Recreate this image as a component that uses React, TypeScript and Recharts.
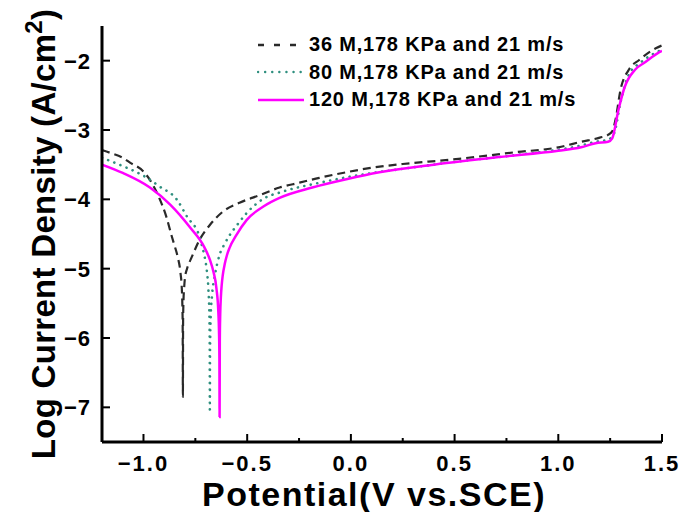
import React from 'react';
import { LineChart, Line, XAxis, YAxis, Legend } from 'recharts';

const SERIES_NAMES = [
  '36 M,178 KPa and 21 m/s',
  '80 M,178 KPa and 21 m/s',
  '120 M,178 KPa and 21 m/s',
];

const V_36 = [-1.2, -1.16, -1.1, -1.065, -1.0, -0.969, -0.93, -0.89, -0.863, -0.85, -0.835, -0.822, -0.815, -0.812, -0.811, -0.81, -0.809, -0.807, -0.804, -0.801, -0.79, -0.78, -0.767, -0.729, -0.68, -0.618, -0.537, -0.44, -0.344, -0.248, -0.152, -0.04, 0.088, 0.25, 0.473, 0.795, 1.0, 1.11, 1.2, 1.24, 1.26, 1.276, 1.3, 1.34, 1.39, 1.47, 1.5];
const L_36 = [-3.29, -3.33, -3.4, -3.47, -3.6, -3.72, -3.94, -4.25, -4.54, -4.67, -4.83, -5.05, -5.3, -5.6, -5.8, -6.85, -5.75, -5.45, -5.28, -5.16, -5.0, -4.92, -4.83, -4.58, -4.37, -4.18, -4.05, -3.94, -3.83, -3.76, -3.69, -3.62, -3.55, -3.49, -3.43, -3.32, -3.25, -3.17, -3.11, -3.07, -3.02, -2.85, -2.42, -2.13, -1.99, -1.82, -1.78];

const V_80 = [-1.2, -1.1, -1.0, -0.92, -0.84, -0.79, -0.73, -0.719, -0.705, -0.695, -0.687, -0.683, -0.681, -0.68, -0.679, -0.676, -0.67, -0.657, -0.633, -0.61, -0.585, -0.546, -0.503, -0.426, -0.33, -0.15, 0.0, 0.25, 0.5, 0.8, 1.1, 1.18, 1.24, 1.27, 1.3, 1.34, 1.4, 1.5];
const L_80 = [-3.4, -3.52, -3.66, -3.82, -4.0, -4.25, -4.54, -4.66, -4.83, -5.02, -5.3, -5.6, -6.0, -7.03, -6.2, -5.7, -5.4, -5.12, -4.8, -4.65, -4.52, -4.36, -4.2, -4.0, -3.89, -3.76, -3.67, -3.56, -3.46, -3.36, -3.23, -3.17, -3.14, -3.04, -2.6, -2.2, -2.02, -1.84];

const V_120 = [-1.2, -1.1, -0.969, -0.87, -0.777, -0.705, -0.68, -0.663, -0.648, -0.639, -0.636, -0.634, -0.633, -0.632, -0.63, -0.627, -0.623, -0.618, -0.608, -0.598, -0.585, -0.553, -0.503, -0.42, -0.344, -0.186, -0.022, 0.137, 0.4, 0.713, 1.0, 1.11, 1.18, 1.24, 1.26, 1.29, 1.32, 1.37, 1.42, 1.48, 1.5];
const L_120 = [-3.5, -3.62, -3.83, -4.08, -4.4, -4.7, -4.87, -5.04, -5.29, -5.63, -5.89, -6.29, -7.14, -6.05, -5.66, -5.42, -5.24, -5.1, -4.93, -4.81, -4.7, -4.52, -4.3, -4.1, -3.98, -3.83, -3.71, -3.61, -3.5, -3.39, -3.3, -3.25, -3.19, -3.17, -3.12, -2.71, -2.38, -2.13, -2.02, -1.89, -1.86];

const X_TICKS = [-1, -0.75, -0.5, -0.25, 0, 0.25, 0.5, 0.75, 1, 1.25, 1.5];
const X_MAJOR = [-1, -0.5, 0, 0.5, 1, 1.5];
const Y_TICKS = [-7, -6, -5, -4, -3, -2];

const FONT = "Arial, 'Liberation Sans', Helvetica, sans-serif";

const toPoints = (v: number[], l: number[]) => v.map((x, i) => ({ v: x, y: l[i] }));
const DATA = [toPoints(V_36, L_36), toPoints(V_80, L_80), toPoints(V_120, L_120)];

const STYLES = [
  { stroke: '#2a2a2a', width: 2.2, dash: '8 5', legendDash: '6 10', cap: 'butt' },
  { stroke: '#2f8f7f', width: 2.6, dash: '0.1 6.5', legendDash: '0.1 7', cap: 'round' },
  { stroke: '#ff00ff', width: 2.5, dash: undefined, legendDash: undefined, cap: 'butt' },
];

const fmt = (n: number, d: number) => n.toFixed(d).replace('-', '\u2212');

const XTick = (props: any) => {
  const { x, y, payload } = props;
  const v = payload.value;
  const major = X_MAJOR.some((m) => Math.abs(m - v) < 1e-6);
  return (
    <g>
      <line x1={x} x2={x} y1={y} y2={y - (major ? 8 : 4)} stroke="#000" strokeWidth={2} />
      {major && (
        <text x={x} y={y + 29} textAnchor="middle" fontFamily={FONT} fontWeight="bold" fontSize={22} letterSpacing={2} fill="#000">
          {fmt(v, 1)}
        </text>
      )}
    </g>
  );
};

const YTick = (props: any) => {
  const { x, y, payload } = props;
  return (
    <g>
      <line x1={x} x2={x + 8} y1={y} y2={y} stroke="#000" strokeWidth={2} />
      <text x={x - 11} y={y} dy="0.36em" textAnchor="end" fontFamily={FONT} fontWeight="bold" fontSize={22} letterSpacing={1} fill="#000">
        {fmt(payload.value, 0)}
      </text>
    </g>
  );
};

const LegendBox = () => (
  <div style={{ fontFamily: FONT, fontWeight: 700, fontSize: 20, color: '#000' }}>
    {SERIES_NAMES.map((name, i) => (
      <div key={name} style={{ display: 'flex', alignItems: 'center', height: 27.5 }}>
        <svg width={48} height={10}>
          <line x1={1} x2={47} y1={5} y2={5} stroke={STYLES[i].stroke} strokeWidth={2.4}
            strokeDasharray={STYLES[i].legendDash} strokeLinecap={STYLES[i].cap as any} />
        </svg>
        <span style={{ marginLeft: 4, letterSpacing: 0.8, whiteSpace: 'nowrap' }}>{name}</span>
      </div>
    ))}
  </div>
);

const YTitle = () => (
  <text x={55} y={234} transform="rotate(-90 55 234)" textAnchor="middle" fontFamily={FONT} fontWeight="bold" fontSize={33} letterSpacing={0.3} fill="#000">
    Log Current Density (A/cm<tspan dy={-13} fontSize={24}>2</tspan><tspan dy={13}>)</tspan>
  </text>
);

const XTitle = () => (
  <text x={374} y={506} textAnchor="middle" fontFamily={FONT} fontWeight="bold" fontSize={34} letterSpacing={1.5} fill="#000">
    Potential(V vs.SCE)
  </text>
);

export default function App() {
  return (
    <div style={{ position: 'absolute', left: 0, top: 0, background: '#fff' }}>
      <LineChart width={684} height={512} margin={{ top: 26, right: 22, left: 42, bottom: 10 }}>
        <XAxis xAxisId="main" type="number" dataKey="v" domain={[-1.2, 1.5]} ticks={X_TICKS} interval={0}
          allowDataOverflow height={60} tickSize={0} tickMargin={0} tickLine={false}
          axisLine={{ stroke: '#000', strokeWidth: 3 }} tick={<XTick />} label={<XTitle />} />
        <XAxis xAxisId="top" orientation="top" type="number" domain={[-1.2, 1.5]} height={0}
          tick={false} tickLine={false} axisLine={{ stroke: '#000', strokeWidth: 3 }} />
        <YAxis yAxisId="main" type="number" domain={[-7.5, -1.5]} ticks={Y_TICKS} interval={0}
          allowDataOverflow width={60} tickSize={0} tickMargin={0} tickLine={false}
          axisLine={{ stroke: '#000', strokeWidth: 3 }} tick={<YTick />} label={<YTitle />} />
        <YAxis yAxisId="right" orientation="right" type="number" domain={[-7.5, -1.5]} width={0}
          tick={false} tickLine={false} axisLine={{ stroke: '#000', strokeWidth: 3 }} />
        {DATA.map((d, i) => (
          <Line key={i} xAxisId="main" yAxisId="main" data={d} dataKey="y" name={SERIES_NAMES[i]}
            type="monotone" dot={false} activeDot={false} isAnimationActive={false}
            stroke={STYLES[i].stroke} strokeWidth={STYLES[i].width}
            strokeDasharray={STYLES[i].dash} strokeLinecap={STYLES[i].cap as any} />
        ))}
        <Legend layout="horizontal" verticalAlign="middle" align="center" content={<LegendBox />}
          wrapperStyle={{ left: 257, top: 31, width: 'auto', height: 'auto' }} />
      </LineChart>
    </div>
  );
}
